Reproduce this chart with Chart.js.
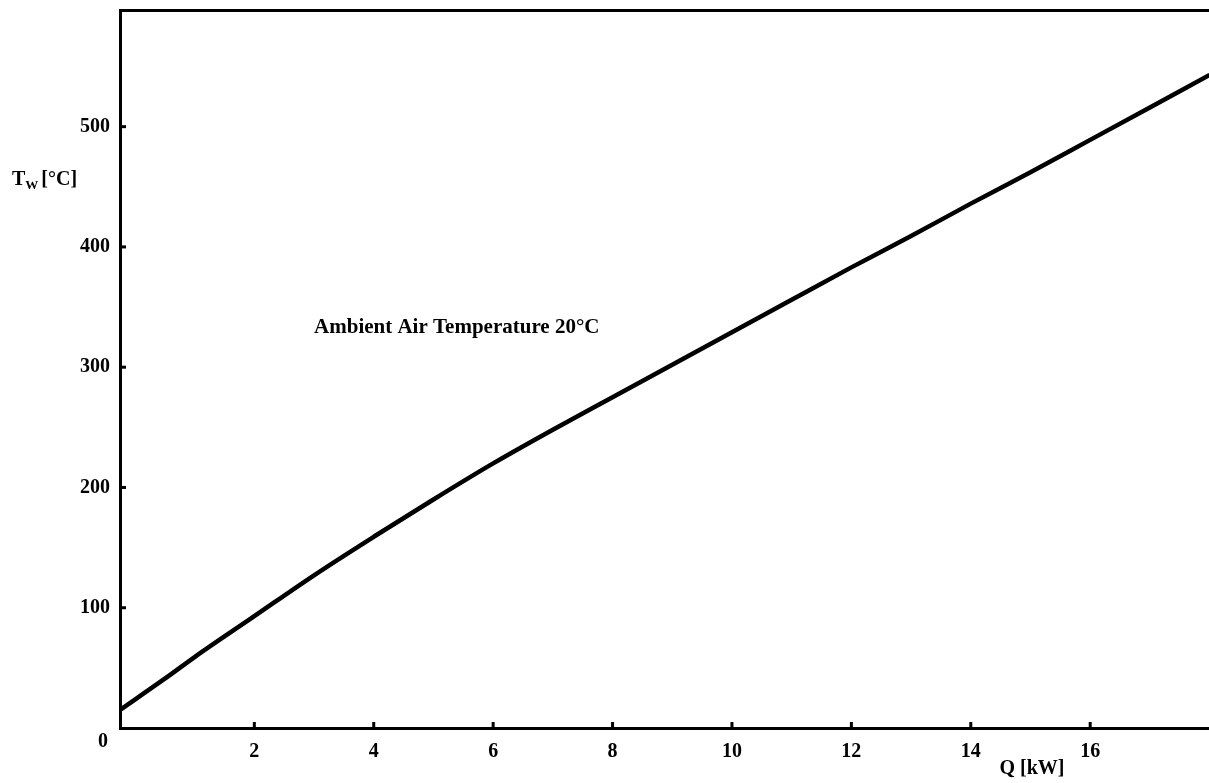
<!DOCTYPE html>
<html><head><meta charset="utf-8">
<script src="https://cdn.jsdelivr.net/npm/chart.js@4/dist/chart.umd.min.js"></script>
<style>html,body{margin:0;padding:0;background:#fff;}#wrap{width:1209px;height:783px;}</style>
</head><body><div id="wrap"><canvas id="c" width="1209" height="783"></canvas></div>
<script>
// Heat load Q [kW] vs wall temperature Tw [°C]
const qValues  = [-0.25, 0.5, 1, 2, 3, 4, 5, 6, 7, 8, 9, 10, 11, 12, 13, 14, 15, 16, 17, 18];
const twValues = [15, 41, 59, 93, 127, 159, 190, 220, 248, 275, 302, 329, 356, 383, 409, 436, 462, 489, 516, 543];
const xTickValues = [2, 4, 6, 8, 10, 12, 14, 16];
const yTickValues = [100, 200, 300, 400, 500];
const originLabel = '0';
const annotationText = 'Ambient Air Temperature 20\u00B0C';
const xTitleText = 'Q [kW]';
const yTitleMain = 'T', yTitleSub = 'W', yTitleUnit = '[\u00B0C]';

const FONT = '"Liberation Serif", "Times New Roman", serif';

const decor = {
  id: 'decor',
  afterDraw(chart) {
    const ctx = chart.ctx, xs = chart.scales.x, ys = chart.scales.y, a = chart.chartArea;
    ctx.save();
    ctx.strokeStyle = '#000';
    ctx.lineWidth = 3;
    // inward tick marks
    xs.ticks.forEach(t => {
      const px = xs.getPixelForValue(t.value);
      ctx.beginPath(); ctx.moveTo(px, a.bottom); ctx.lineTo(px, a.bottom - 6); ctx.stroke();
    });
    ys.ticks.forEach(t => {
      const py = ys.getPixelForValue(t.value);
      ctx.beginPath(); ctx.moveTo(a.left, py); ctx.lineTo(a.left + 6, py); ctx.stroke();
    });
    ctx.fillStyle = '#000';
    // origin label
    ctx.font = 'bold 20px ' + FONT;
    ctx.textAlign = 'center'; ctx.textBaseline = 'middle';
    ctx.fillText(originLabel, a.left - 17, a.bottom + 14);
    // x title
    ctx.fillText(xTitleText, 1032, 769);
    // y title
    ctx.textAlign = 'left';
    let x = 12; const yc = 180;
    ctx.fillText(yTitleMain, x, yc);
    x += ctx.measureText(yTitleMain).width;
    ctx.font = 'bold 13px ' + FONT;
    ctx.fillText(yTitleSub, x, yc + 6);
    x += ctx.measureText(yTitleSub).width + 3;
    ctx.font = 'bold 20px ' + FONT;
    ctx.fillText(yTitleUnit, x, yc);
    // annotation
    ctx.font = 'bold 21px ' + FONT;
    ctx.textAlign = 'left';
    ctx.fillText(annotationText, xs.getPixelForValue(3.0), ys.getPixelForValue(333));
    ctx.restore();
  }
};

new Chart(document.getElementById('c'), {
  type: 'scatter',
  data: {
    datasets: [{
      data: qValues.map((q, i) => ({x: q, y: twValues[i]})),
      showLine: true,
      borderColor: '#000',
      borderWidth: 4.5,
      pointRadius: 0,
      cubicInterpolationMode: 'monotone',
      fill: false
    }]
  },
  options: {
    responsive: false,
    animation: false,
    layout: {padding: 0},
    plugins: {legend: {display: false}, tooltip: {enabled: false}},
    scales: {
      x: {
        type: 'linear', position: 'bottom', min: -0.25, max: 17.99,
        afterBuildTicks: s => { s.ticks = xTickValues.map(v => ({value: v})); },
        afterFit: s => { s.height = 55; s.paddingLeft = 0; s.paddingRight = 0; },
        ticks: {font: {family: FONT, size: 20, weight: 'bold'}, color: '#000', padding: 12, maxRotation: 0, autoSkip: false},
        grid: {display: false, drawTicks: false},
        border: {display: true, color: '#000', width: 3}
      },
      xTop: {
        type: 'linear', position: 'top', min: -0.25, max: 17.99,
        afterFit: s => { s.height = 10; s.paddingLeft = 0; s.paddingRight = 0; },
        ticks: {display: false},
        grid: {display: false, drawTicks: false},
        border: {display: true, color: '#000', width: 3}
      },
      y: {
        type: 'linear', min: 0, max: 597,
        afterBuildTicks: s => { s.ticks = yTickValues.map(v => ({value: v})); },
        afterFit: s => { s.width = 120; s.paddingTop = 0; s.paddingBottom = 0; },
        ticks: {font: {family: FONT, size: 20, weight: 'bold'}, color: '#000', padding: 10},
        grid: {display: false, drawTicks: false},
        border: {display: true, color: '#000', width: 3}
      }
    }
  },
  plugins: [decor]
});
</script>
</body></html>
